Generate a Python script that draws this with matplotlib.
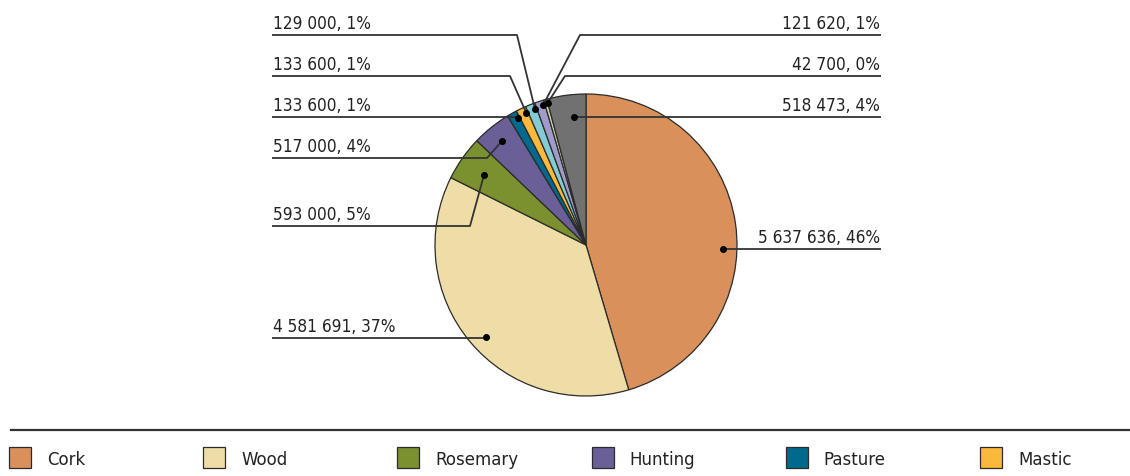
import matplotlib.pyplot as plt
import numpy as np

plt.rcParams['font.family'] = ['DejaVu Sans']

# revenue by product (clockwise from 12 o'clock)
categories = ['Cork', 'Wood', 'Rosemary', 'Hunting', 'Pasture', 'Mastic',
              'Mushrooms', 'Honey', 'Pine nuts', 'Other']
values = [5637636, 4581691, 593000, 517000, 133600, 133600,
          129000, 121620, 42700, 518473]
percents = [46, 37, 5, 4, 1, 1, 1, 1, 0, 4]
colors = ['#D9905A', '#EEDDA6', '#7B912F', '#6B5F98', '#006A8E', '#FBB93B',
          '#84CCD4', '#A09BC8', '#C8D6A8', '#717171']
legend_count = 6

W, H = 1130, 477
fig = plt.figure(figsize=(W / 100, H / 100), dpi=100)
ax = fig.add_axes([0, 0, 1, 1])

def Y(y):
    # layout is given in pixels from the top edge
    return H - y

cx, cy, R = 586, 246, 151
wedges, _ = ax.pie(values, colors=colors, startangle=90, counterclock=False,
                   center=(cx, Y(cy)), radius=R,
                   wedgeprops=dict(edgecolor='#2b2b2b', linewidth=0.9))
ax.set_xlim(0, W)
ax.set_ylim(0, H)
ax.set_aspect('auto')
ax.axis('off')

def fmt(v):
    return f'{v:,}'.replace(',', ' ')

# leader layout: (side, line y, bend x, dot radius fraction, position within wedge)
leaders = [
    ('R', 250, None, 0.91, 0.56),
    ('L', 339, None, 0.90, 0.48),
    ('L', 227, 470, 0.82, 0.47),
    ('L', 159, 487, 0.885, 0.49),
    ('L', 118, 512, 0.955, 0.8),
    ('L', 77, 510, 0.96, 0.8),
    ('L', 36, 517, 0.965, 0.8),
    ('R', 36, 580, 0.97, 0.8),
    ('R', 77, 565, 0.975, 0.95),
    ('R', 118, None, 0.85, 0.65),
]

lc = '#333333'
fs = 12.3
for w, v, p, (side, ly, bx, rf, t) in zip(wedges, values, percents, leaders):
    ang = np.deg2rad(w.theta2 - t * (w.theta2 - w.theta1))
    dx = cx + rf * R * np.cos(ang)
    dy = Y(cy) + rf * R * np.sin(ang)
    if bx is None:
        bx = dx
    x_end = 272 if side == 'L' else 881
    ax.plot([x_end, bx, dx], [Y(ly), Y(ly), dy], color=lc, lw=1.3,
            solid_capstyle='butt', zorder=3)
    ax.plot(dx, dy, 'o', color='black', ms=4, zorder=4)
    label = f'{fmt(v)}, {p}%'
    if side == 'L':
        ax.text(273, Y(ly - 7), label, ha='left', va='baseline',
                fontsize=fs, fontstretch='condensed', color='#222222')
    else:
        ax.text(880, Y(ly - 7), label, ha='right', va='baseline',
                fontsize=fs, fontstretch='condensed', color='#222222')

# legend strip
ax.plot([11, W], [Y(431), Y(431)], color='#333333', lw=1.6)
for i in range(legend_count):
    x0 = 9 + i * 194.2
    ax.add_patch(plt.Rectangle((x0, Y(469)), 22, 21, facecolor=colors[i],
                               edgecolor='#2b2b2b', lw=0.9))
    ax.text(x0 + 38, Y(465), categories[i], ha='left', va='baseline',
            fontsize=12, color='#222222')

fig.savefig('out.png', dpi=100)
